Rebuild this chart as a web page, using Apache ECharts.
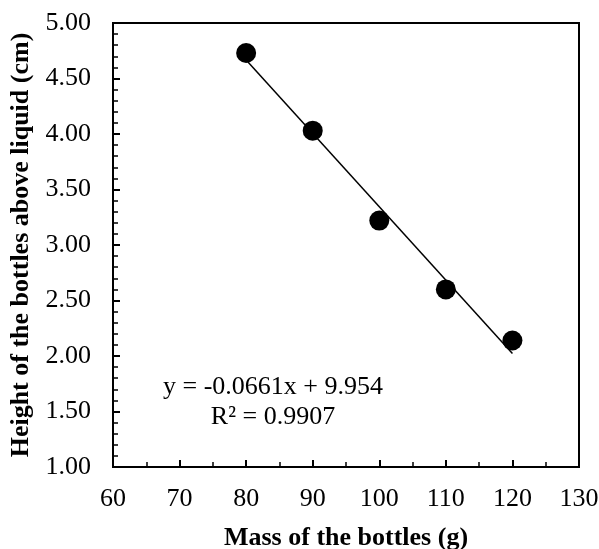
<!DOCTYPE html>
<html>
<head>
<meta charset="utf-8">
<script src="https://cdn.jsdelivr.net/npm/echarts@6/dist/echarts.min.js"></script>
<style>
  html, body { margin: 0; padding: 0; background: #fff; }
  #chart { width: 599px; height: 549px; }
</style>
</head>
<body>
<div id="chart"></div>
<script>
// measured points
const massValues = [80, 90, 100, 110, 120]
const heightValues = [4.73, 4.03, 3.22, 2.60, 2.14]

// linear trendline as printed on the chart
const slope = -0.0661
const intercept = 9.954
const equationText = 'y = -0.0661x + 9.954'
const r2Text = 'R² = 0.9907'

const font = "'Liberation Serif', 'Times New Roman', serif"

const points = massValues.map((x, i) => [x, heightValues[i]])
const xFirst = massValues[0]
const xLast = massValues[massValues.length - 1]
const trendLine = [
  [xFirst, slope * xFirst + intercept],
  [xLast, slope * xLast + intercept]
]

const chart = echarts.init(document.getElementById('chart'))

chart.setOption({
  backgroundColor: '#fff',
  animation: false,
  grid: {
    left: 113, right: 20, top: 23, bottom: 82,
    outerBoundsMode: 'none',
    show: true,
    borderColor: '#000',
    borderWidth: 2
  },
  xAxis: {
    type: 'value',
    min: 60, max: 130, interval: 10,
    name: 'Mass of the bottles (g)',
    nameLocation: 'middle',
    nameGap: 58,
    nameTextStyle: { fontFamily: font, fontSize: 26, fontWeight: 'bold', color: '#000' },
    axisLine: { show: true, lineStyle: { color: '#000', width: 2 } },
    axisTick: { show: true, inside: true, length: 7, lineStyle: { color: '#000', width: 2 } },
    minorTick: { show: true, splitNumber: 2, length: 5, lineStyle: { color: '#000', width: 1.5 } },
    splitLine: { show: false },
    axisLabel: { fontFamily: font, fontSize: 26, color: '#000', margin: 19 }
  },
  yAxis: {
    type: 'value',
    min: 1, max: 5, interval: 0.5,
    name: 'Height of the bottles above liquid (cm)',
    nameLocation: 'middle',
    nameGap: 70,
    nameTextStyle: { fontFamily: font, fontSize: 26, fontWeight: 'bold', color: '#000' },
    axisLine: { show: true, lineStyle: { color: '#000', width: 2 } },
    axisTick: { show: true, inside: true, length: 7, lineStyle: { color: '#000', width: 2 } },
    minorTick: { show: true, splitNumber: 5, length: 5, lineStyle: { color: '#000', width: 1.5 } },
    splitLine: { show: false },
    axisLabel: {
      fontFamily: font, fontSize: 26, color: '#000', margin: 22,
      formatter: v => v.toFixed(2)
    }
  },
  series: [
    {
      name: 'trend',
      type: 'line',
      data: trendLine,
      symbol: 'none',
      lineStyle: { color: '#000', width: 1.5 },
      z: 2
    },
    {
      name: 'data',
      type: 'scatter',
      data: points,
      symbol: 'circle',
      symbolSize: 20,
      itemStyle: { color: '#000', opacity: 1 },
      z: 3
    }
  ],
  graphic: [
    {
      type: 'text',
      style: {
        x: 273, y: 402,
        text: equationText + '\n' + r2Text,
        font: '26px ' + font,
        fill: '#000',
        textAlign: 'center',
        textVerticalAlign: 'middle',
        lineHeight: 30
      }
    }
  ]
})
</script>
</body>
</html>
